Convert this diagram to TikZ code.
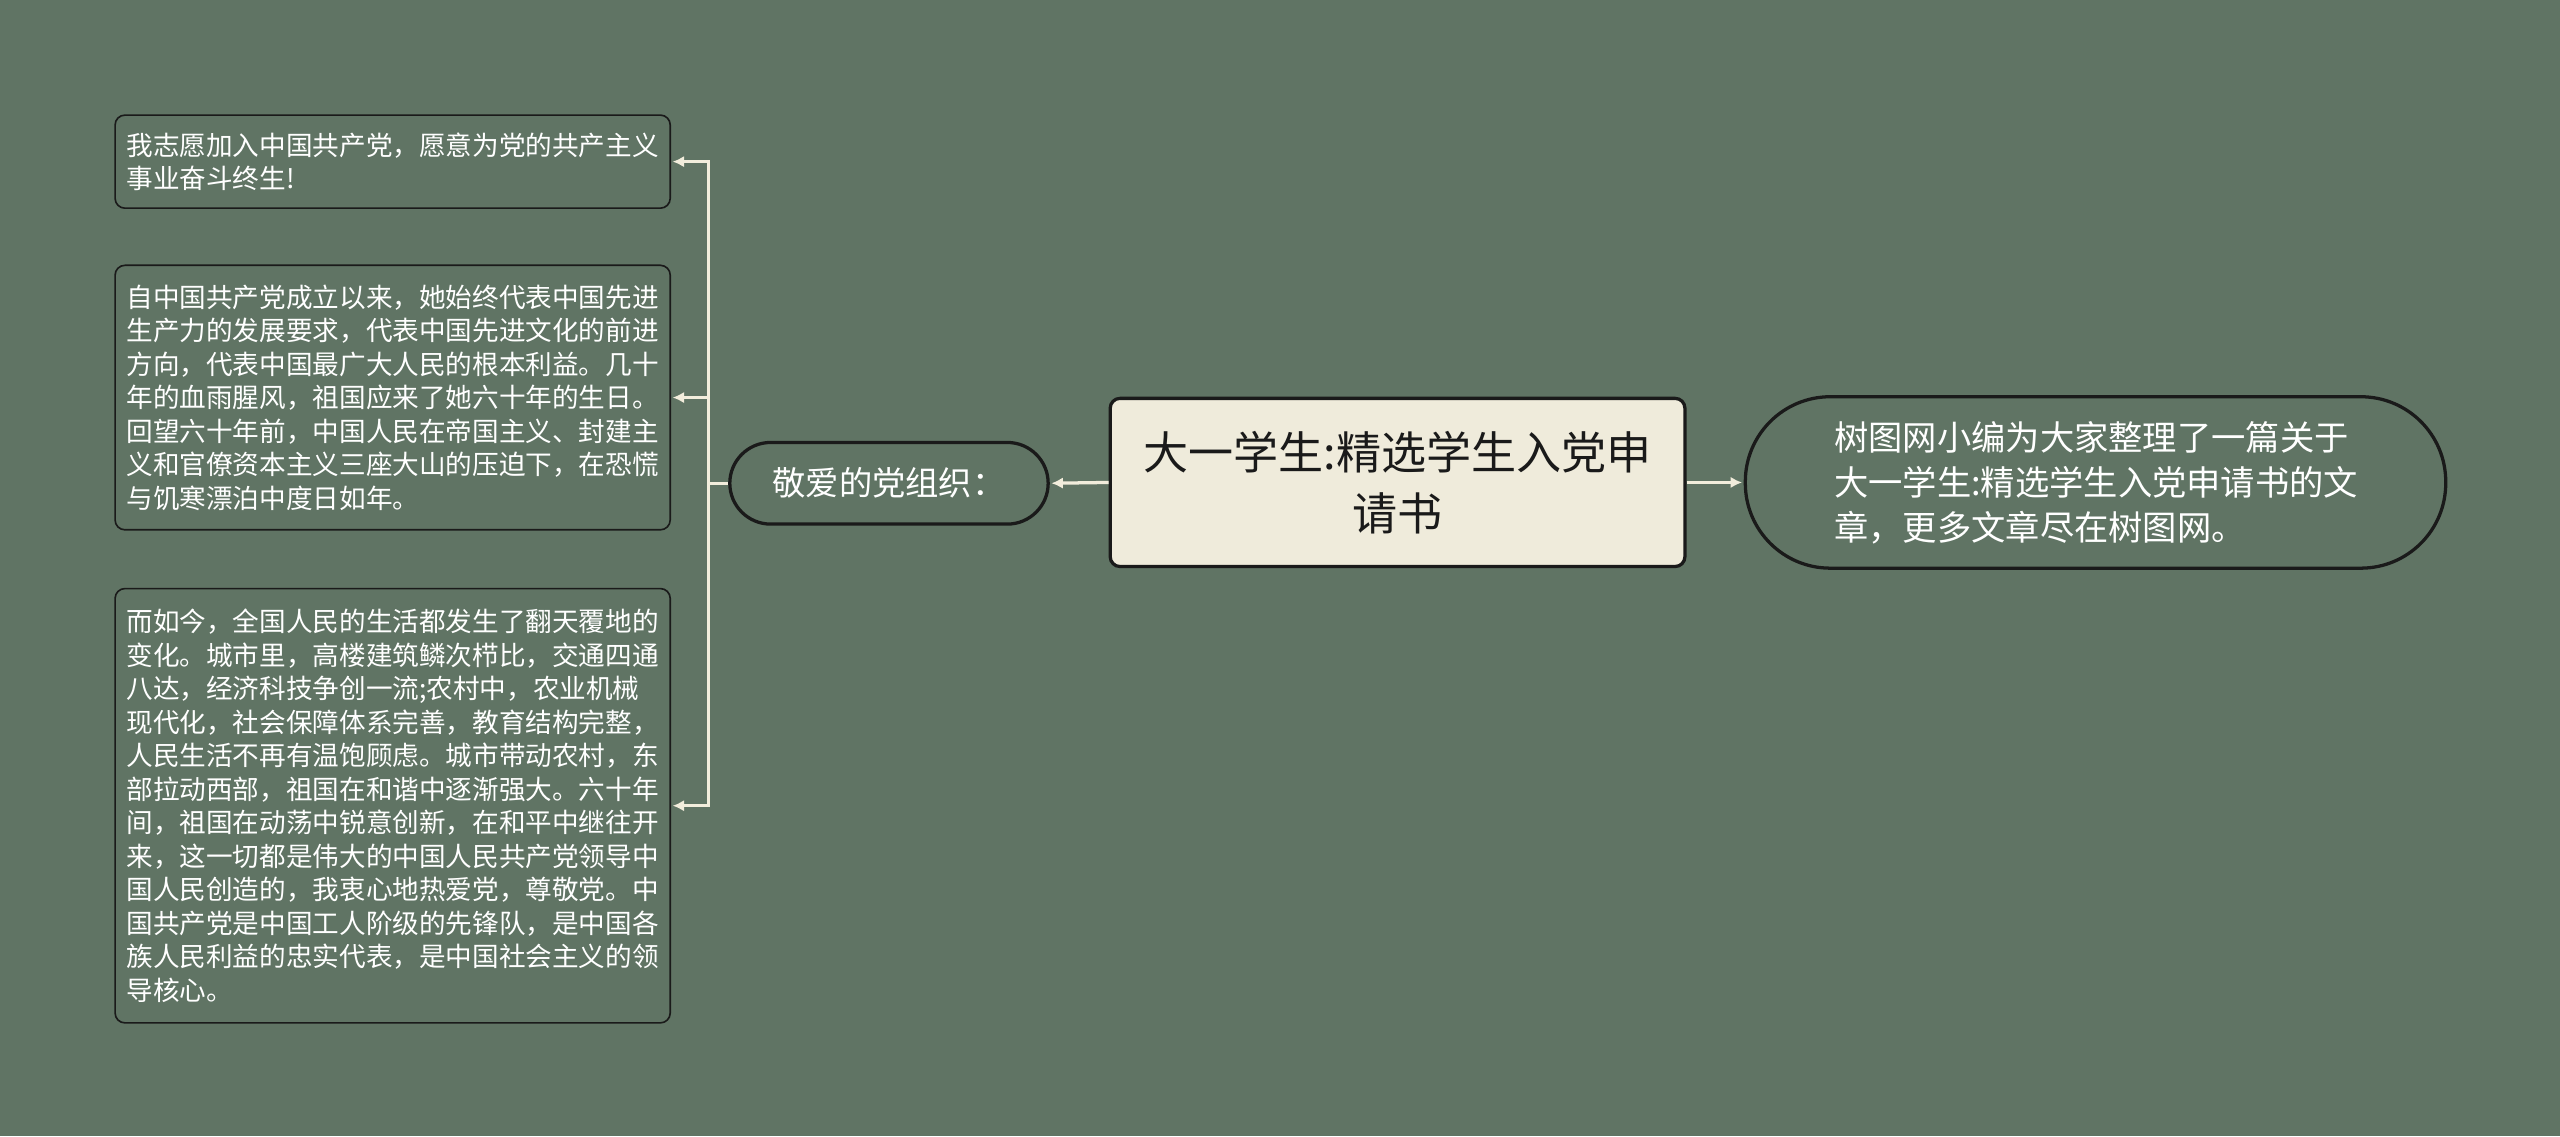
\documentclass[tikz,border=0pt]{standalone}
\usepackage{fontspec}
\setmainfont{Noto Sans CJK SC}
\usepackage{xcolor}
\usepackage{tikz}
\usetikzlibrary{arrows.meta}
\definecolor{bgc}{HTML}{607464}
\definecolor{linec}{HTML}{F2EDDC}
\definecolor{rootfill}{HTML}{EFEBDB}
\definecolor{inkc}{HTML}{1A1A1A}

\begin{document}
\begin{tikzpicture}[x=1pt,y=-1pt,
	leaf/.style={draw=inkc, line width=1pt, rounded corners=6pt, fill=bgc, text=white,
		font=\fontsize{16.3}{20.5}\selectfont, align=left, text width=326pt,
		inner xsep=7pt, inner ysep=0pt, anchor=north west},
	root/.style={draw=inkc, line width=2pt, rounded corners=6pt, fill=rootfill, text=inkc,
		font=\fontsize{27.6}{37}\selectfont, align=center, minimum width=352pt, minimum height=103pt},
	hub/.style={draw=inkc, line width=2pt, rounded corners=25pt, fill=bgc, text=white,
		font=\fontsize{20.4}{26}\selectfont, minimum width=195pt, minimum height=50pt},
	pill/.style={draw=inkc, line width=2pt, rounded corners=52pt, fill=bgc, text=white,
		font=\fontsize{21}{27.5}\selectfont, align=left, text width=320pt,
		minimum width=429pt, minimum height=105pt},
	line/.style={draw=linec, line width=2pt},
	link/.style={line, -{Latex[length=7pt,width=7pt]}, shorten >=1pt}]
	%% canvas
	\fill[bgc] (0,0) rectangle (1568,696);
	\useasboundingbox (0,0) rectangle (1568,696);

	%% main nodes
	\node[root] (title) at (856,295.5) {大一学生:精选学生入党申\\请书};
	\node[hub] (party) at (544.5,296) {敬爱的党组织：};
	\node[pill] (note) at (1283.5,295.5) {树图网小编为大家整理了一篇关于\\大一学生:精选学生入党申请书的文\\章，更多文章尽在树图网。};

	% leaves
	\node[leaf, minimum height=57pt] (vow) at (70,70)
		{我志愿加入中国共产党，愿意为党的共产主义\\事业奋斗终生!};
	\node[leaf, minimum height=162pt] (history) at (70,162)
		{自中国共产党成立以来，她始终代表中国先进\\生产力的发展要求，代表中国先进文化的前进\\方向，代表中国最广大人民的根本利益。几十\\年的血雨腥风，祖国应来了她六十年的生日。\\回望六十年前，中国人民在帝国主义、封建主\\义和官僚资本主义三座大山的压迫下，在恐慌\\与饥寒漂泊中度日如年。};
	\node[leaf, minimum height=266pt] (today) at (70,360)
		{而如今，全国人民的生活都发生了翻天覆地的\\变化。城市里，高楼建筑鳞次栉比，交通四通\\八达，经济科技争创一流;农村中，农业机械\\现代化，社会保障体系完善，教育结构完整，\\人民生活不再有温饱顾虑。城市带动农村，东\\部拉动西部，祖国在和谐中逐渐强大。六十年\\间，祖国在动荡中锐意创新，在和平中继往开\\来，这一切都是伟大的中国人民共产党领导中\\国人民创造的，我衷心地热爱党，尊敬党。中\\国共产党是中国工人阶级的先锋队，是中国各\\族人民利益的忠实代表，是中国社会主义的领\\导核心。};

	%% connectors
	\draw[link] (title.west) -- (party.east);
	\draw[link] (title.east) -- (note.west);
	\coordinate (fork) at (434,296);
	\draw[line] (party.west) -- (fork);
	\draw[link] (fork) |- (vow.east);
	\draw[link] (fork) |- (history.east);
	\draw[link] (fork) |- (today.east);
\end{tikzpicture}
\end{document}
